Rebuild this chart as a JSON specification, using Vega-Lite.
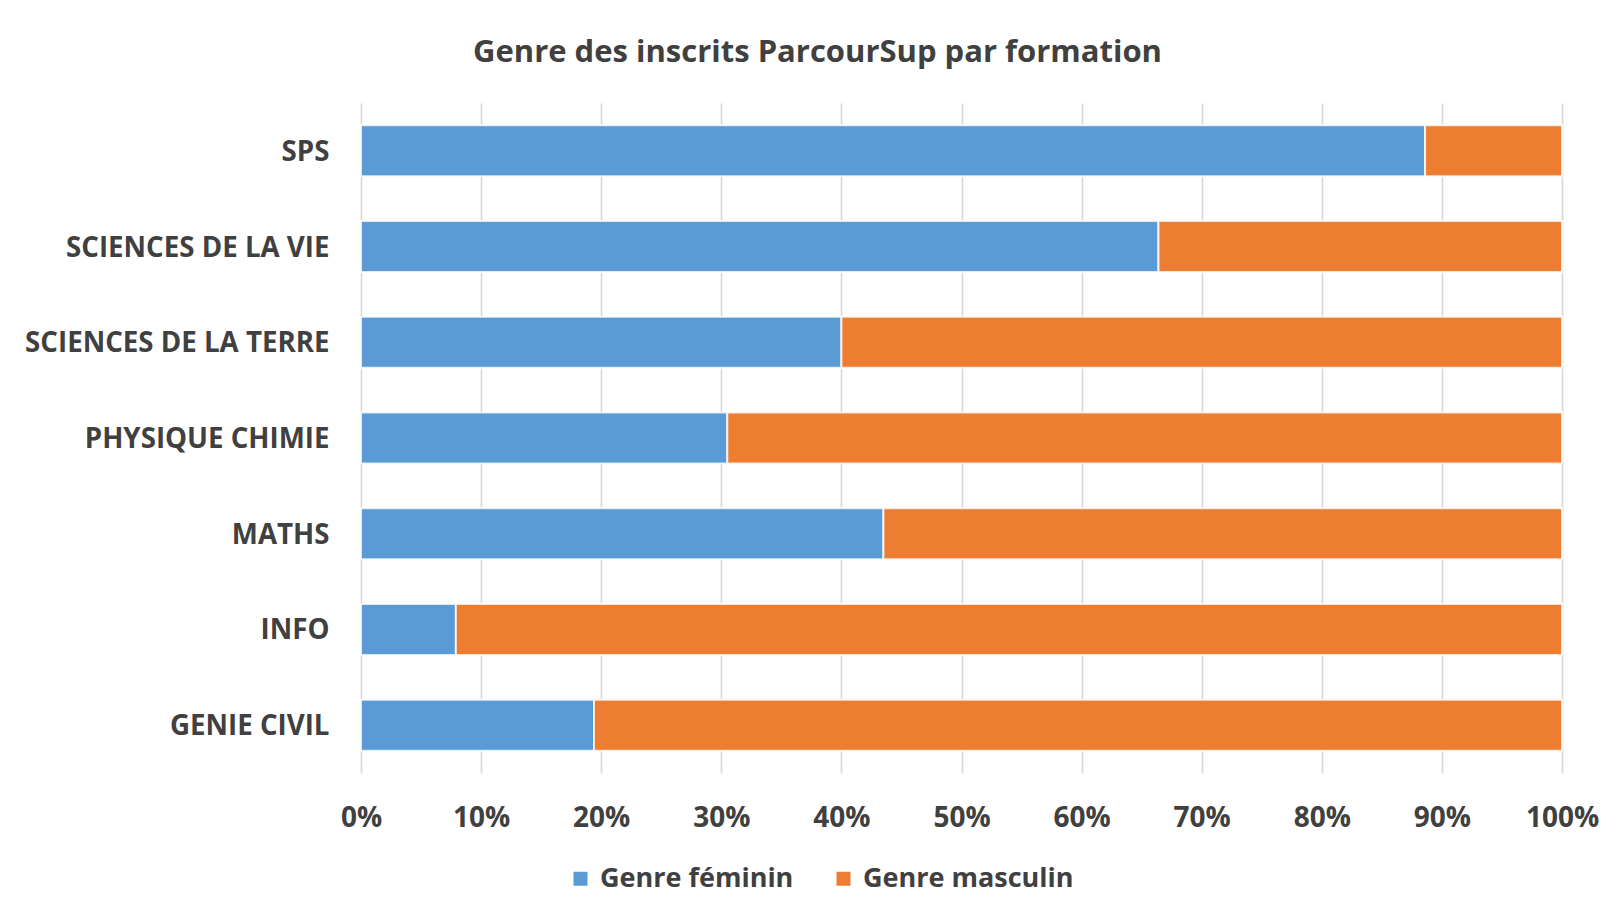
{
  "$schema": "https://vega.github.io/schema/vega-lite/v6.json",
  "width": 1201,
  "height": 670,
  "autosize": "none",
  "padding": {"left": 361, "top": 103, "right": 45, "bottom": 139},
  "background": "white",
  "title": {
    "text": "Genre des inscrits ParcourSup par formation",
    "anchor": "middle",
    "dx": -144,
    "offset": 10,
    "baseline": "alphabetic",
    "fontSize": 31,
    "font": "Open Sans",
    "fontWeight": "bold",
    "color": "#404040"
  },
  "config": {"view": {"stroke": null}, "font": "Open Sans"},
  "data": {
    "values": [
      {"formation": "SPS", "genre": "Genre féminin", "part": 0.886},
      {"formation": "SPS", "genre": "Genre masculin", "part": 0.114},
      {"formation": "SCIENCES DE LA VIE", "genre": "Genre féminin", "part": 0.664},
      {"formation": "SCIENCES DE LA VIE", "genre": "Genre masculin", "part": 0.336},
      {"formation": "SCIENCES DE LA TERRE", "genre": "Genre féminin", "part": 0.400},
      {"formation": "SCIENCES DE LA TERRE", "genre": "Genre masculin", "part": 0.600},
      {"formation": "PHYSIQUE CHIMIE", "genre": "Genre féminin", "part": 0.305},
      {"formation": "PHYSIQUE CHIMIE", "genre": "Genre masculin", "part": 0.695},
      {"formation": "MATHS", "genre": "Genre féminin", "part": 0.435},
      {"formation": "MATHS", "genre": "Genre masculin", "part": 0.565},
      {"formation": "INFO", "genre": "Genre féminin", "part": 0.079},
      {"formation": "INFO", "genre": "Genre masculin", "part": 0.921},
      {"formation": "GENIE CIVIL", "genre": "Genre féminin", "part": 0.194},
      {"formation": "GENIE CIVIL", "genre": "Genre masculin", "part": 0.806}
    ]
  },
  "mark": {"type": "bar", "stroke": "white", "strokeWidth": 2, "strokeOpacity": 0.8},
  "encoding": {
    "y": {
      "field": "formation",
      "type": "nominal",
      "sort": ["SPS", "SCIENCES DE LA VIE", "SCIENCES DE LA TERRE", "PHYSIQUE CHIMIE", "MATHS", "INFO", "GENIE CIVIL"],
      "scale": {"paddingInner": 0.467, "paddingOuter": 0.233},
      "axis": {
        "title": null,
        "ticks": false,
        "domain": false,
        "grid": false,
        "labelFontSize": 27.7,
        "labelFont": "Open Sans",
        "labelFontWeight": "bold",
        "labelColor": "#404040",
        "labelPadding": 32,
        "labelBaseline": "alphabetic",
        "labelOffset": 10,
        "labelLimit": 400
      }
    },
    "x": {
      "field": "part",
      "type": "quantitative",
      "stack": "zero",
      "scale": {"domain": [0, 1], "nice": false},
      "axis": {
        "title": null,
        "format": ".0%",
        "values": [0, 0.1, 0.2, 0.3, 0.4, 0.5, 0.6, 0.7, 0.8, 0.9, 1],
        "grid": true,
        "gridColor": "#d9d9d9",
        "gridWidth": 1.7,
        "domain": false,
        "ticks": false,
        "labelPadding": 53,
        "labelBaseline": "alphabetic",
        "labelFontSize": 28,
        "labelFont": "Open Sans",
        "labelFontWeight": "bold",
        "labelColor": "#404040",
        "labelFlush": false,
        "labelOverlap": false
      }
    },
    "color": {
      "field": "genre",
      "type": "nominal",
      "scale": {"domain": ["Genre féminin", "Genre masculin"], "range": ["#5B9BD5", "#ED7D31"]},
      "legend": {
        "title": null,
        "orient": "none",
        "direction": "horizontal",
        "legendX": 206,
        "legendY": 762,
        "symbolType": "square",
        "symbolSize": 196,
        "symbolStrokeWidth": 0,
        "labelFontSize": 27,
        "labelFont": "Open Sans",
        "labelFontWeight": "bold",
        "labelColor": "#404040",
        "labelOffset": 6,
        "columnPadding": 36,
        "labelLimit": 400
      }
    }
  }
}
